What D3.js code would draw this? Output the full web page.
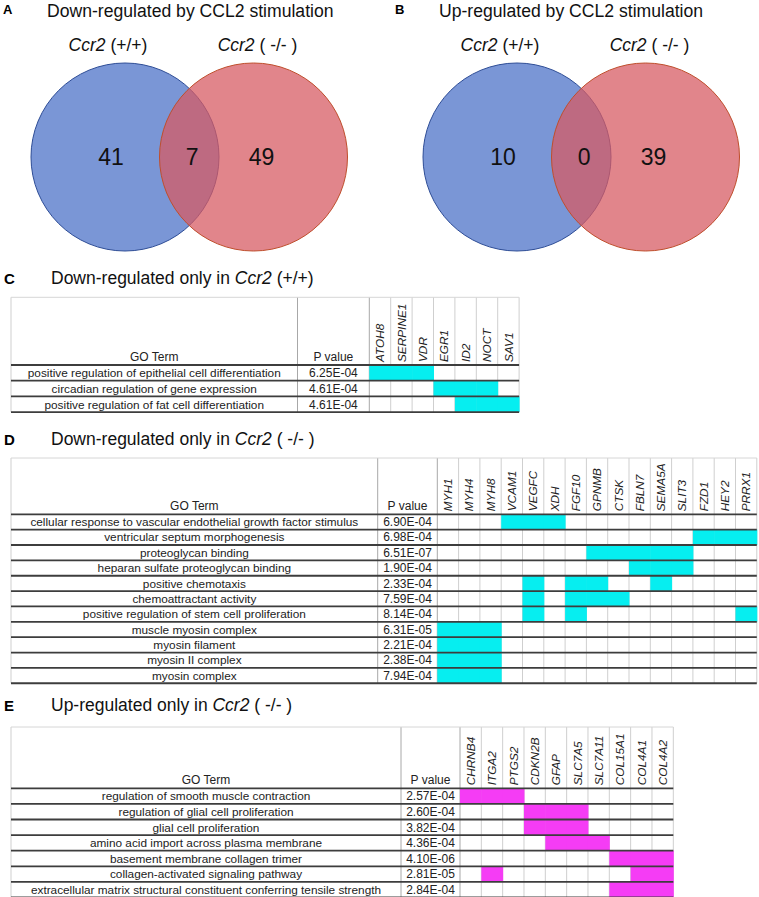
<!DOCTYPE html>
<html>
<head>
<meta charset="utf-8">
<script src="https://cdn.jsdelivr.net/npm/d3@7"></script>
<style>
  body { margin: 0; background: #fff; }
  svg { display: block; font-family: "Liberation Sans", Arial, Helvetica, sans-serif; }
</style>
</head>
<body>
<svg id="fig" width="759" height="897"></svg>
<script>
// venn counts: [only +/+, shared, only -/-]
const vennLetters = ["A", "B"];
const vennTitles = ["Down-regulated by CCL2 stimulation", "Up-regulated by CCL2 stimulation"];
const vennGroups = ["(+/+)", "( -/- )"];
const downCounts = [41, 7, 49];
const upCounts = [10, 0, 39];

// table C
const genesC = ["ATOH8", "SERPINE1", "VDR", "EGR1", "ID2", "NOCT", "SAV1"];
const termsC = [
  "positive regulation of epithelial cell differentiation",
  "circadian regulation of gene expression",
  "positive regulation of fat cell differentiation"
];
const pvalsC = ["6.25E-04", "4.61E-04", "4.61E-04"];
const membersC = [
  ["ATOH8", "SERPINE1", "VDR"],
  ["EGR1", "ID2", "NOCT"],
  ["ID2", "NOCT", "SAV1"]
];

// table D
const genesD = ["MYH1", "MYH4", "MYH8", "VCAM1", "VEGFC", "XDH", "FGF10", "GPNMB", "CTSK", "FBLN7", "SEMA5A", "SLIT3", "FZD1", "HEY2", "PRRX1"];
const termsD = [
  "cellular response to vascular endothelial growth factor stimulus",
  "ventricular septum morphogenesis",
  "proteoglycan binding",
  "heparan sulfate proteoglycan binding",
  "positive chemotaxis",
  "chemoattractant activity",
  "positive regulation of stem cell proliferation",
  "muscle myosin complex",
  "myosin filament",
  "myosin II complex",
  "myosin complex"
];
const pvalsD = ["6.90E-04", "6.98E-04", "6.51E-07", "1.90E-04", "2.33E-04", "7.59E-04", "8.14E-04", "6.31E-05", "2.21E-04", "2.38E-04", "7.94E-04"];
const membersD = [
  ["VCAM1", "VEGFC", "XDH"],
  ["FZD1", "HEY2", "PRRX1"],
  ["GPNMB", "CTSK", "FBLN7", "SEMA5A", "SLIT3"],
  ["FBLN7", "SEMA5A", "SLIT3"],
  ["VEGFC", "FGF10", "GPNMB", "SEMA5A"],
  ["VEGFC", "FGF10", "GPNMB", "CTSK"],
  ["VEGFC", "FGF10", "PRRX1"],
  ["MYH1", "MYH4", "MYH8"],
  ["MYH1", "MYH4", "MYH8"],
  ["MYH1", "MYH4", "MYH8"],
  ["MYH1", "MYH4", "MYH8"]
];

// table E
const genesE = ["CHRNB4", "ITGA2", "PTGS2", "CDKN2B", "GFAP", "SLC7A5", "SLC7A11", "COL15A1", "COL4A1", "COL4A2"];
const termsE = [
  "regulation of smooth muscle contraction",
  "regulation of glial cell proliferation",
  "glial cell proliferation",
  "amino acid import across plasma membrane",
  "basement membrane collagen trimer",
  "collagen-activated signaling pathway",
  "extracellular matrix structural constituent conferring tensile strength"
];
const pvalsE = ["2.57E-04", "2.60E-04", "3.82E-04", "4.36E-04", "4.10E-06", "2.81E-05", "2.84E-04"];
const membersE = [
  ["CHRNB4", "ITGA2", "PTGS2"],
  ["CDKN2B", "GFAP", "SLC7A5"],
  ["CDKN2B", "GFAP", "SLC7A5"],
  ["GFAP", "SLC7A5", "SLC7A11"],
  ["COL15A1", "COL4A1", "COL4A2"],
  ["ITGA2", "COL4A1", "COL4A2"],
  ["COL15A1", "COL4A1", "COL4A2"]
];

const svg = d3.select("#fig");

// ---------- venn panels ----------
function drawVenn(offset, letter, title, counts) {
  const g = svg.append("g").attr("transform", `translate(${offset},0)`);
  // circle centres along x, both sets equal size
  const cx = d3.scaleLinear().domain([0, 1]).range([125, 253.5]);
  const r = 94;
  const cy = 157;

  g.append("text").attr("x", 3).attr("y", 14)
    .attr("font-size", 13).attr("font-weight", "bold").text(letter);
  g.append("text").attr("x", 47).attr("y", 17)
    .attr("font-size", 17.6).attr("fill", "#111").text(title);

  vennGroups.forEach((grp, i) => {
    const t = g.append("text")
      .attr("x", cx(i) + (i === 0 ? -17 : 4)).attr("y", 51)
      .attr("text-anchor", "middle").attr("font-size", 17.5).attr("fill", "#111");
    t.append("tspan").attr("font-style", "italic").text("Ccr2");
    t.append("tspan").text(" " + grp);
  });

  g.append("circle").attr("cx", cx(0)).attr("cy", cy).attr("r", r)
    .attr("fill", "#7A96D6").attr("stroke", "#2E4D96").attr("stroke-width", 1);
  g.append("circle").attr("cx", cx(1)).attr("cy", cy).attr("r", r)
    .attr("fill", "#D75B62").attr("fill-opacity", 0.74)
    .attr("stroke", "#BF4E2C").attr("stroke-width", 1);

  const numX = [cx(0) - 14, (cx(0) + cx(1)) / 2 + 3, cx(1) + 8];
  g.selectAll("text.count").data(counts).join("text")
    .attr("class", "count")
    .attr("x", (d, i) => numX[i]).attr("y", cy + 8)
    .attr("text-anchor", "middle").attr("font-size", 23).attr("fill", "#111")
    .text(d => d);
}

drawVenn(0, vennLetters[0], vennTitles[0], downCounts);
drawVenn(392, vennLetters[1], vennTitles[1], upCounts);

// ---------- GO tables ----------
function drawTable(cfg) {
  const g = svg.append("g");
  const { left, goRight, pRight, geneW, top, headBottom, rowH, genes, terms, pvals, members, fill } = cfg;
  const x = d3.scaleBand().domain(genes).range([pRight, pRight + genes.length * geneW]);
  const y = d3.scaleBand().domain(terms).range([headBottom, headBottom + terms.length * rowH]);
  const right = x.range()[1];
  const bottom = y.range()[1];

  // section title
  g.append("text").attr("x", 4).attr("y", cfg.titleY)
    .attr("font-size", 15).attr("font-weight", "bold").text(cfg.letter);
  const t = g.append("text").attr("x", 51).attr("y", cfg.titleY)
    .attr("font-size", 17.5).attr("fill", "#111");
  t.append("tspan").text(cfg.titlePre);
  t.append("tspan").attr("font-style", "italic").text("Ccr2");
  t.append("tspan").text(cfg.titlePost);

  // vertical grid
  const vx = [left, goRight].concat(genes.map(d => x(d))).concat([right]);
  g.selectAll("line.v").data(vx).join("line")
    .attr("class", "v")
    .attr("x1", d => d).attr("x2", d => d)
    .attr("y1", top).attr("y2", bottom)
    .attr("stroke", (d, i) => (i === 1 || i === 2) ? "#a8a8a8" : "#cfcfcf")
    .attr("stroke-width", 1);
  g.append("line").attr("x1", left).attr("x2", right).attr("y1", top).attr("y2", top)
    .attr("stroke", "#d6d6d6").attr("stroke-width", 1);

  // filled membership cells
  const cells = [];
  terms.forEach((term, i) => members[i].forEach(gene => cells.push({ term, gene })));
  g.selectAll("rect.cell").data(cells).join("rect")
    .attr("class", "cell")
    .attr("x", d => x(d.gene)).attr("y", d => y(d.term))
    .attr("width", x.bandwidth() + 0.5).attr("height", y.bandwidth())
    .attr("fill", fill);

  // horizontal row rules
  const hy = [headBottom].concat(terms.map(d => y(d) + y.bandwidth()));
  g.selectAll("line.h").data(hy).join("line")
    .attr("class", "h")
    .attr("x1", left).attr("x2", right)
    .attr("y1", d => d).attr("y2", d => d)
    .attr("stroke", "#3d3d3d").attr("stroke-width", 1.8);

  // header
  g.append("text").attr("x", (left + goRight) / 2).attr("y", headBottom - 4)
    .attr("text-anchor", "middle").attr("font-size", 12).attr("fill", "#222").text("GO Term");
  g.append("text").attr("x", (goRight + pRight) / 2).attr("y", headBottom - 4)
    .attr("text-anchor", "middle").attr("font-size", 12).attr("fill", "#222").text("P value");
  g.selectAll("text.gene").data(genes).join("text")
    .attr("class", "gene")
    .attr("transform", d => `translate(${x(d) + x.bandwidth() / 2 + 4.2},${headBottom - 3}) rotate(-90)`)
    .attr("font-size", 11.8).attr("font-style", "italic").attr("fill", "#222")
    .text(d => d);

  // rows
  g.selectAll("text.term").data(terms).join("text")
    .attr("class", "term")
    .attr("x", (left + goRight) / 2).attr("y", d => y(d) + y.bandwidth() - 3.6)
    .attr("text-anchor", "middle").attr("font-size", 11.8).attr("fill", "#222")
    .text(d => d);
  g.selectAll("text.pv").data(pvals).join("text")
    .attr("class", "pv")
    .attr("x", (goRight + pRight) / 2).attr("y", (d, i) => y(terms[i]) + y.bandwidth() - 3.6)
    .attr("text-anchor", "middle").attr("font-size", 12).attr("fill", "#222")
    .text(d => d);
}

drawTable({
  letter: "C", titlePre: "Down-regulated only in ", titlePost: " (+/+)", titleY: 284,
  left: 11, goRight: 297.5, pRight: 369.3, geneW: 21.4, top: 297.3, headBottom: 365, rowH: 15.7,
  genes: genesC, terms: termsC, pvals: pvalsC, members: membersC, fill: "#06EEF0"
});
drawTable({
  letter: "D", titlePre: "Down-regulated only in ", titlePost: " ( -/- )", titleY: 445,
  left: 11, goRight: 377.7, pRight: 437.3, geneW: 21.3, top: 458, headBottom: 514.3, rowH: 15.36,
  genes: genesD, terms: termsD, pvals: pvalsD, members: membersD, fill: "#06EEF0"
});
drawTable({
  letter: "E", titlePre: "Up-regulated only in ", titlePost: " ( -/- )", titleY: 711,
  left: 11, goRight: 401, pRight: 460, geneW: 21.33, top: 727, headBottom: 788.3, rowH: 15.6,
  genes: genesE, terms: termsE, pvals: pvalsE, members: membersE, fill: "#F53CF5"
});
</script>
</body>
</html>
